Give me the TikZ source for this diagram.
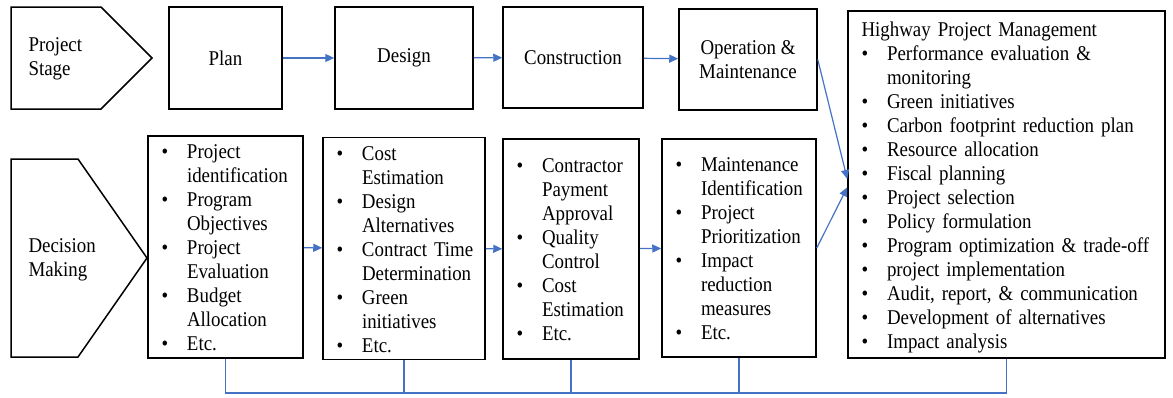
\documentclass[tikz,border=0pt]{standalone}
\usepackage{fontspec}
\setmainfont{Liberation Serif}[FakeStretch=0.9]
\usetikzlibrary{arrows.meta}
\definecolor{flowblue}{RGB}{68,114,196}
\newenvironment{bullets}{\begin{tabular}{@{}p{25.5pt}@{}l@{}}\noalign{\vskip 6pt}}{\end{tabular}}
\begin{document}
\begin{tikzpicture}[x=1pt,y=-1pt,
    every node/.style={font=\fontsize{21}{24}\selectfont},
    stagebox/.style={draw,line width=1.5pt,align=center,inner sep=0pt},
    listbox/.style={draw,line width=1.5pt,align=left,inner xsep=13.5pt,inner ysep=0pt},
    flow/.style={flowblue,line width=1.2pt}]
  \useasboundingbox (0,0) rectangle (1173,397);
  \draw[line width=1.5pt] (11,7) -- (101,7) -- (152,58) -- (101,109) -- (11,109) -- cycle;
  \draw[line width=1.5pt] (11,159) -- (78,159) -- (147,258) -- (78,357) -- (11,357) -- cycle;
  \draw
    (25,59) node[anchor=west,align=left] (stage){Project\\Stage}
    (25,260) node[anchor=west,align=left] (decision){Decision\\Making}
    (225.5,58) node[stagebox,minimum width=113pt,minimum height=102pt] (plan){Plan}
    (404,58) node[stagebox,minimum width=138pt,minimum height=102pt] (design){Design}
    (573,57.5) node[stagebox,minimum width=140pt,minimum height=101pt] (constr){Construction}
    (748,59.5) node[stagebox,minimum width=138pt,minimum height=101pt] (om){Operation \&\\Maintenance}
    (225.5,247) node[listbox,text width=128pt,minimum height=220pt] (dm1){\begin{bullets}
      \textbullet & Project\\ & identification\\
      \textbullet & Program\\ & Objectives\\
      \textbullet & Project\\ & Evaluation\\
      \textbullet & Budget\\ & Allocation\\
      \textbullet & Etc.
      \end{bullets}}
    (404,248.5) node[listbox,text width=135pt,minimum height=219pt] (dm2){\begin{bullets}
      \textbullet & Cost\\ & Estimation\\
      \textbullet & Design\\ & Alternatives\\
      \textbullet & Contract Time\\ & Determination\\
      \textbullet & Green\\ & initiatives\\
      \textbullet & Etc.
      \end{bullets}}
    (571,249) node[listbox,text width=109pt,minimum height=220pt] (dm3){\begin{bullets}
      \textbullet & Contractor\\ & Payment\\ & Approval\\
      \textbullet & Quality\\ & Control\\
      \textbullet & Cost\\ & Estimation\\
      \textbullet & Etc.
      \end{bullets}}
    (739,248) node[listbox,text width=127pt,minimum height=218pt] (dm4){\begin{bullets}
      \textbullet & Maintenance\\ & Identification\\
      \textbullet & Project\\ & Prioritization\\
      \textbullet & Impact\\ & reduction\\ & measures\\
      \textbullet & Etc.
      \end{bullets}}
    (1006.5,184.5) node[listbox,text width=290pt,minimum height=347pt] (hpm){\begin{bullets}
      \multicolumn{2}{@{}l@{}}{Highway Project Management}\\
      \textbullet & Performance evaluation \&\\ & monitoring\\
      \textbullet & Green initiatives\\
      \textbullet & Carbon footprint reduction plan\\
      \textbullet & Resource allocation\\
      \textbullet & Fiscal planning\\
      \textbullet & Project selection\\
      \textbullet & Policy formulation\\
      \textbullet & Program optimization \& trade-off\\
      \textbullet & project implementation\\
      \textbullet & Audit, report, \& communication\\
      \textbullet & Development of alternatives\\
      \textbullet & Impact analysis
      \end{bullets}};
  \coordinate (bus) at (0,393);
  \begin{scope}[flow,-{Triangle[length=9pt,width=8pt]}]
    \draw (plan) to (design);
    \draw (design) to (constr);
    \draw (constr) to (om);
    \draw (dm1) to (dm2);
    \draw (dm2) to (dm3);
    \draw (dm3) to (dm4);
    \draw (om.east) to (hpm.178);
    \draw (dm4.east) to (hpm.181.5);
  \end{scope}
  \begin{scope}[flow]
    \draw (dm1.south) -- (dm1.south |- bus) -| (hpm.south);
    \draw (dm2.south) -- (dm2.south |- bus);
    \draw (dm3.south) -- (dm3.south |- bus);
    \draw (dm4.south) -- (dm4.south |- bus);
  \end{scope}
\end{tikzpicture}
\end{document}
